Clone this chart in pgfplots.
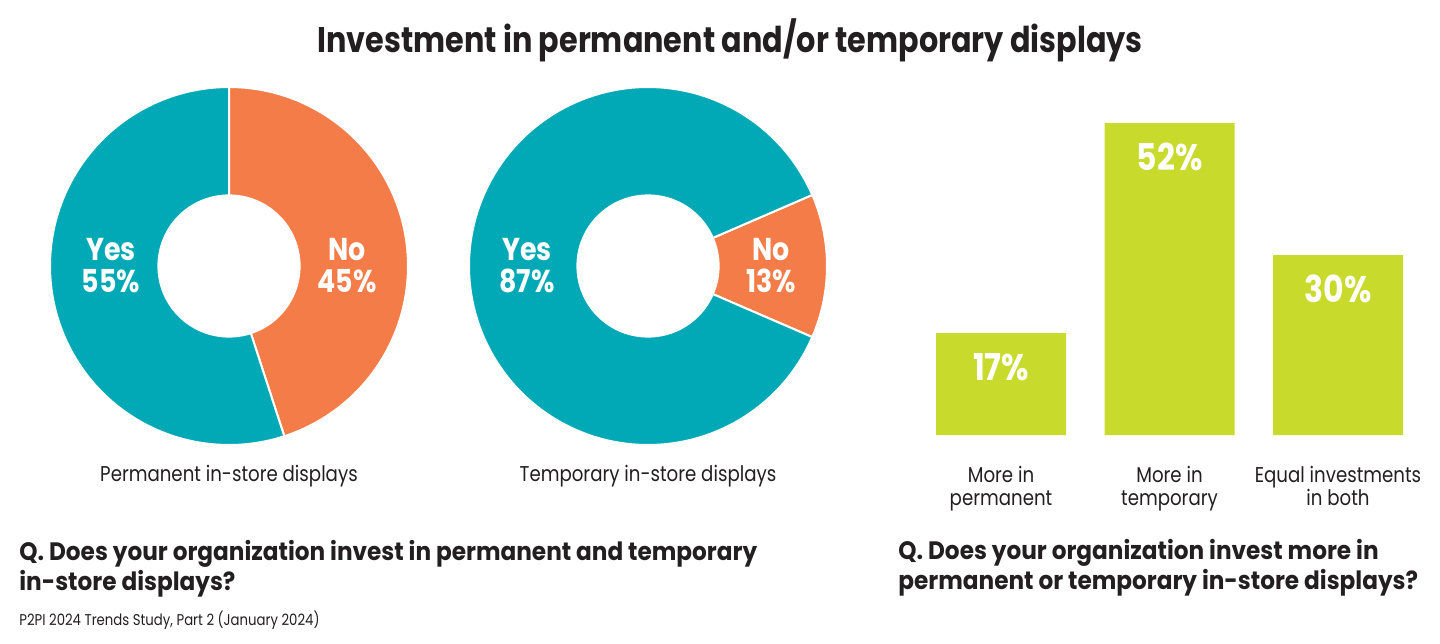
\documentclass[border=0pt]{standalone}
\usepackage{pgfplots}
\pgfplotsset{compat=1.18}
\usepackage{fontspec}
\setmainfont{Poppins}[FakeStretch=0.85]
\newfontfamily\qfont{Poppins}[FakeStretch=0.92]

\definecolor{dteal}{HTML}{00A9B5}
\definecolor{dorange}{HTML}{F47C48}
\definecolor{dlime}{HTML}{C8DA2B}
\definecolor{ink}{HTML}{231F20}

\begin{document}
\begin{tikzpicture}
% layout in pixels of the 1440x643 reference (1px = 0.5pt, y down)
\begin{scope}[x=0.5pt,y=-0.5pt]
\useasboundingbox (0,0) rectangle (1440,643);
\coordinate (d1) at (229,266);
\coordinate (d2) at (648,266);
\coordinate (b0) at (916.75,435);
\end{scope}

% donut 1: permanent in-store displays (Yes 55, No 45)
\begin{axis}[at={(d1)},anchor=center,scale only axis,
  width=179pt,height=179pt,xmin=-1,xmax=1,ymin=-1,ymax=1,
  hide axis,clip=false]
\addplot[fill=dorange,draw=white,line width=1pt,domain={90-3.6*45}:90,samples=100]
  ({cos(x)},{sin(x)}) -- (0,0) -- cycle;
\addplot[fill=dteal,draw=white,line width=1pt,domain={90-3.6*100}:{90-3.6*45},samples=120]
  ({cos(x)},{sin(x)}) -- (0,0) -- cycle;
\addplot[fill=white,draw=none,domain=0:360,samples=120]
  ({0.4*cos(x)},{0.4*sin(x)}) -- cycle;
\end{axis}

% donut 2: temporary in-store displays (Yes 87, No 13)
\begin{axis}[at={(d2)},anchor=center,scale only axis,
  width=179pt,height=179pt,xmin=-1,xmax=1,ymin=-1,ymax=1,
  hide axis,clip=false]
\addplot[fill=dorange,draw=white,line width=1pt,domain={-1.8*13}:{1.8*13},samples=60]
  ({cos(x)},{sin(x)}) -- (0,0) -- cycle;
\addplot[fill=dteal,draw=white,line width=1pt,domain={1.8*13}:{360-1.8*13},samples=150]
  ({cos(x)},{sin(x)}) -- (0,0) -- cycle;
\addplot[fill=white,draw=none,domain=0:360,samples=120]
  ({0.4*cos(x)},{0.4*sin(x)}) -- cycle;
\end{axis}

% bars: more in permanent / temporary / equal
\begin{axis}[at={(b0)},anchor=south west,scale only axis,
  width=252.75pt,height=156pt,
  xmin=-0.5,xmax=2.5,ymin=0,ymax=52,
  ybar,bar width=65pt,clip=false,
  axis line style={draw=none},
  ytick=\empty,xtick={0,1,2},major tick length=0pt,
  /pgf/number format/assume math mode=true,
  xticklabels={{More in\\permanent},{More in\\temporary},{Equal investments\\in both}},
  xticklabel style={align=center,text=ink,font=\fontsize{10.7}{11.5}\selectfont,yshift=-12pt},
  nodes near coords={\pgfmathprintnumber{\pgfplotspointmeta}\%},
  every node near coord/.append style={anchor=base,yshift=-23.5pt,text=white,
    font=\bfseries\fontsize{18.5}{19}\selectfont}]
\addplot[fill=dlime,draw=none] coordinates {(0,17) (1,52) (2,30)};
\end{axis}

\begin{scope}[x=0.5pt,y=-0.5pt]
% title
\node[anchor=base,text=ink,font=\bfseries\fontsize{17.8}{19}\selectfont] at (730,52)
  {Investment in permanent and/or temporary displays};

\begin{scope}[text=white,font=\bfseries\fontsize{15.8}{16}\selectfont]
\node[anchor=base] at (111,260) {Yes};
\node[anchor=base] at (111,292) {55\%};
\node[anchor=base] at (347,260) {No};
\node[anchor=base] at (347,292) {45\%};
\node[anchor=base] at (527,260) {Yes};
\node[anchor=base] at (527,292) {87\%};
\node[anchor=base] at (771,260) {No};
\node[anchor=base] at (771,292) {13\%};
\end{scope}

\begin{scope}[text=ink,font=\fontsize{10.7}{13}\selectfont]
\node[anchor=base] at (229,481) {Permanent in-store displays};
\node[anchor=base] at (648,481) {Temporary in-store displays};
\end{scope}

% questions and source
\begin{scope}[text=ink,font=\qfont\bfseries\fontsize{12.6}{14}\selectfont]
\node[anchor=base west,inner sep=0pt] at (19,560) {Q. Does your organization invest in permanent and temporary};
\node[anchor=base west,inner sep=0pt] at (19,590) {in-store displays?};
\node[anchor=base west,inner sep=0pt] at (898,559) {Q. Does your organization invest more in};
\node[anchor=base west,inner sep=0pt] at (898,589) {permanent or temporary in-store displays?};
\end{scope}
\node[anchor=base west,inner sep=0pt,text=ink,font=\fontsize{7.8}{8}\selectfont] at (19,625)
  {P2PI 2024 Trends Study, Part 2 (January 2024)};
\end{scope}
\end{tikzpicture}
\end{document}
